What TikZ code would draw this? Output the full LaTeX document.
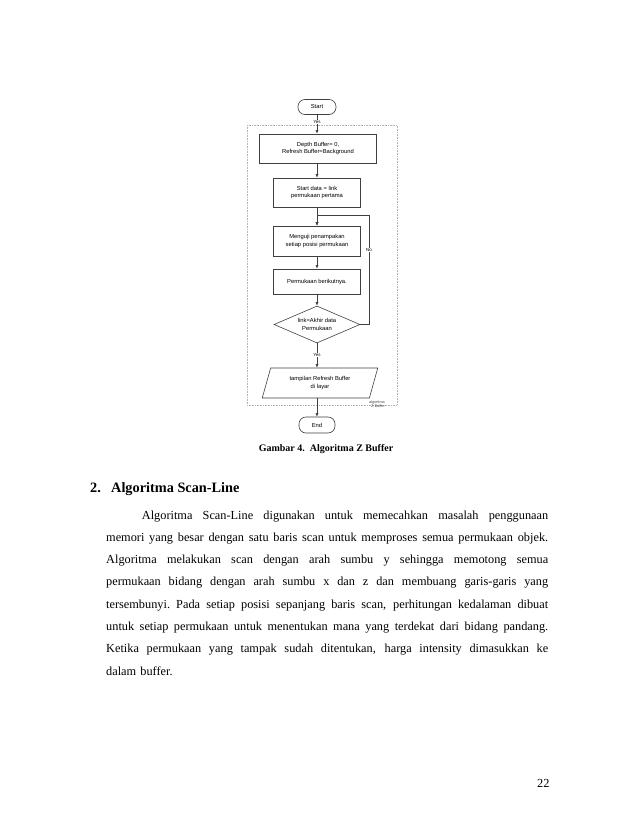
\documentclass[tikz,border=0pt]{standalone}
\usepackage{fontspec}
\setmainfont{Liberation Serif}
\newfontfamily\chartfont{Liberation Sans}
\usetikzlibrary{shapes.geometric,arrows.meta}

\newcommand*{\pagew}{638}
\newcommand*{\pageh}{826}
\newcommand*{\loopx}{369}
\newcommand*{\loopy}{215}
\newcommand*{\linew}{442pt}
% one justified line of the paragraph
\newcommand*{\jline}[2][\linew]{\leavevmode\hbox to #1{\spaceskip=0.25em plus 1fil\relax #2}}

\begin{document}
\begin{tikzpicture}
[
	x=1pt, y=-1pt,
	chartline/.style={draw=black!75, line width=0.6pt},
	flowarrow/.style={chartline, -{Latex[length=3.5pt,width=3pt]}},
	terminal/.style={chartline, rounded corners=7pt, minimum width=38pt, minimum height=15pt, inner sep=0pt, font=\chartfont\fontsize{5.8}{7}\selectfont},
	process/.style={chartline, rectangle, inner sep=0pt, align=center, font=\chartfont\fontsize{5.8}{7.4}\selectfont},
	decision/.style={chartline, diamond, shape aspect=2.3, minimum width=86pt, minimum height=37pt, inner sep=0pt, align=center, font=\chartfont\fontsize{5.8}{7.4}\selectfont},
	iobox/.style={chartline, trapezium, trapezium left angle=68, trapezium right angle=112, trapezium stretches=true, minimum width=116pt, minimum height=30pt, inner sep=0pt, align=center, font=\chartfont\fontsize{5.8}{7.4}\selectfont},
	flowlabel/.style={fill=white, inner sep=0.4pt, font=\chartfont\fontsize{4.5}{5}\selectfont},
	bodytext/.style={inner sep=0pt, anchor=base west, font=\fontsize{12.3}{22.3}\selectfont}
]

	% page
	\useasboundingbox[fill=white] (0,0) rectangle (\pagew,\pageh);

	% frame of the algorithm
	\draw[gray!60, densely dotted, line width=0.6pt] (247,125) rectangle (397,405);
	\node[align=right, inner sep=0pt, font=\chartfont\fontsize{3.8}{4}\selectfont, text=black!70] (framelabel) at (377,404) {algoritma\\Z-Buffer};

	% flowchart nodes
	\node[terminal] (start) at (317,107) {Start};
	\node[process, minimum width=117pt, minimum height=29pt] (init) at (318,148.5) {Depth Buffer= 0,\\Refresh Buffer=Background};
	\node[process, minimum width=87pt, minimum height=29pt] (first) at (317,192.5) {Start data = link\\permukaan pertama};
	\node[process, minimum width=87pt, minimum height=30pt] (test) at (317,241) {Menguji penampakan\\setiap posisi permukaan};
	\node[process, minimum width=87pt, minimum height=25pt] (next) at (317,281.5) {Permukaan berikutnya.};
	\node[decision] (last) at (317,324.5) {link=Akhir data\\Permukaan};
	\node[iobox] (show) at (320,383) {tampilan Refresh Buffer\\di layar};
	\node[terminal, minimum width=36pt, minimum height=16pt] (end) at (317,425) {End};
	\coordinate (loopturn) at (\loopx,\loopy);

	% connectors
	\draw[flowarrow] (start) -- node[flowlabel, pos=0.4] {Yes} (start |- init.north);
	\draw[flowarrow] (start |- init.south) -- (first);
	\draw[flowarrow] (first) -- (test);
	\draw[flowarrow] (test) -- (next);
	\draw[flowarrow] (next) -- (last);
	\draw[flowarrow] (last.east) -- (last.east -| loopturn) -- node[flowlabel, pos=0.68] {No} (loopturn) -- (loopturn -| test.north) -- (test.north);
	\draw[flowarrow] (last.south) -- node[flowlabel, pos=0.48] {Yes} (last.south |- show.north);
	\draw[flowarrow] (end |- show.south) -- (end.north);

	% caption
	\node[inner sep=0pt, anchor=base, font=\bfseries\fontsize{10}{12}\selectfont] (caption) at (326,451) {Gambar 4.\ \ Algoritma Z Buffer};

	% section text
	\node[bodytext, font=\bfseries\fontsize{14.3}{16}\selectfont] (heading) at (90,492) {\makebox[21pt][l]{2.}Algoritma Scan-Line};
	\node[bodytext, text width=\linew, align=left] (para) at (106,519) {%
		\hspace*{35.7pt}\jline[406.3pt]{Algoritma Scan-Line digunakan untuk memecahkan masalah penggunaan}\\
		\jline{memori yang besar dengan satu baris scan untuk memproses semua permukaan objek.}\\
		\jline{Algoritma melakukan scan dengan arah sumbu y sehingga memotong semua}\\
		\jline{permukaan bidang dengan arah sumbu x dan z dan membuang garis-garis yang}\\
		\jline{tersembunyi. Pada setiap posisi sepanjang baris scan, perhitungan kedalaman dibuat}\\
		\jline{untuk setiap permukaan untuk menentukan mana yang terdekat dari bidang pandang.}\\
		\jline{Ketika permukaan yang tampak sudah ditentukan, harga intensity dimasukkan ke}\\
		dalam buffer.};

	% page number
	\node[bodytext] (pagenum) at (537,787) {22};

\end{tikzpicture}
\end{document}
